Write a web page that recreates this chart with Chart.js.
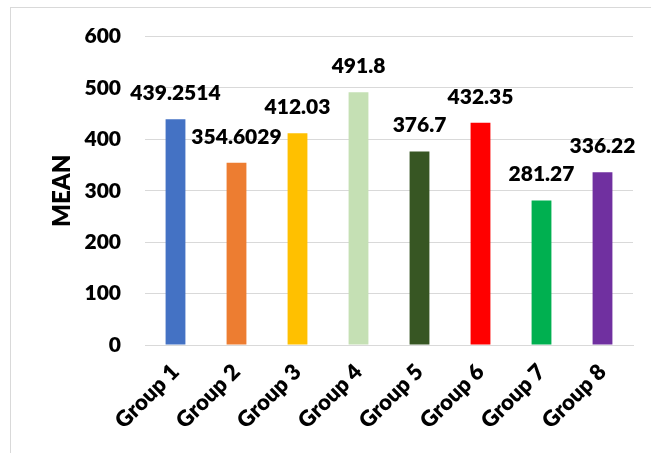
<!DOCTYPE html>
<html>
<head>
<meta charset="utf-8">
<script src="https://cdn.jsdelivr.net/npm/chart.js@4/dist/chart.umd.min.js"></script>
<style>
html,body{margin:0;padding:0;background:#fff;overflow:hidden;}
#wrap{position:relative;width:651px;height:453px;}
#frame{position:absolute;left:10px;top:7px;width:700px;height:500px;border:1px solid #d9d9d9;box-sizing:border-box;}
canvas{position:absolute;left:0;top:0;}
</style>
</head>
<body>
<div id="wrap">
<div id="frame"></div>
<canvas id="c" width="651" height="453"></canvas>
</div>
<script>
const categories = ["Group 1","Group 2","Group 3","Group 4","Group 5","Group 6","Group 7","Group 8"];
const meanValues = [439.2514, 354.6029, 412.03, 491.8, 376.7, 432.35, 281.27, 336.22];
const yTicks = [0, 100, 200, 300, 400, 500, 600];
const barColors = ["#4472C4","#ED7D31","#FFC000","#C5E0B4","#375623","#FF0000","#00B050","#7030A0"];

const FONT = "Lato, 'Open Sans', sans-serif";
const W = 800;

const valueLabels = {
  id: 'valueLabels',
  afterDatasetsDraw(chart) {
    const ctx = chart.ctx;
    const meta = chart.getDatasetMeta(0);
    ctx.save();
    ctx.font = W + " 21px " + FONT;
    ctx.fillStyle = "#000";
    ctx.textAlign = "center";
    ctx.textBaseline = "alphabetic";
    meta.data.forEach((bar, i) => {
      const v = chart.data.datasets[0].data[i];
      ctx.fillText(String(v), bar.x, bar.y - 19);
    });
    ctx.restore();
  }
};

new Chart(document.getElementById('c'), {
  type: 'bar',
  data: {
    labels: categories,
    datasets: [{
      data: meanValues,
      backgroundColor: barColors,
      borderWidth: 0,
      barPercentage: 0.65,
      categoryPercentage: 0.5
    }]
  },
  options: {
    responsive: false,
    animation: false,
    devicePixelRatio: 1,
    layout: { padding: { left: 48, right: 18, top: 27, bottom: 0 } },
    plugins: { legend: { display: false }, tooltip: { enabled: false } },
    scales: {
      x: {
        grid: { display: false, drawTicks: false },
        border: { display: true, color: '#d9d9d9', width: 1 },
        ticks: {
          color: '#000',
          font: { family: FONT, size: 22, weight: W },
          minRotation: 45, maxRotation: 45,
          padding: 14
        },
        afterFit(scale) { scale.height = 108; }
      },
      y: {
        min: 0, max: 600,
        afterBuildTicks(scale) { scale.ticks = yTicks.map(v => ({ value: v })); },
        grid: { color: '#d9d9d9', lineWidth: 1, drawTicks: false },
        border: { display: false },
        ticks: {
          color: '#000',
          font: { family: FONT, size: 21, weight: W },
          padding: 24
        },
        title: {
          display: true,
          text: 'MEAN',
          color: '#000',
          font: { family: FONT, size: 24, weight: W },
          padding: 0
        },
        afterFit(scale) { scale.width = 145 - 48; }
      }
    }
  },
  plugins: [valueLabels]
});
</script>
</body>
</html>
